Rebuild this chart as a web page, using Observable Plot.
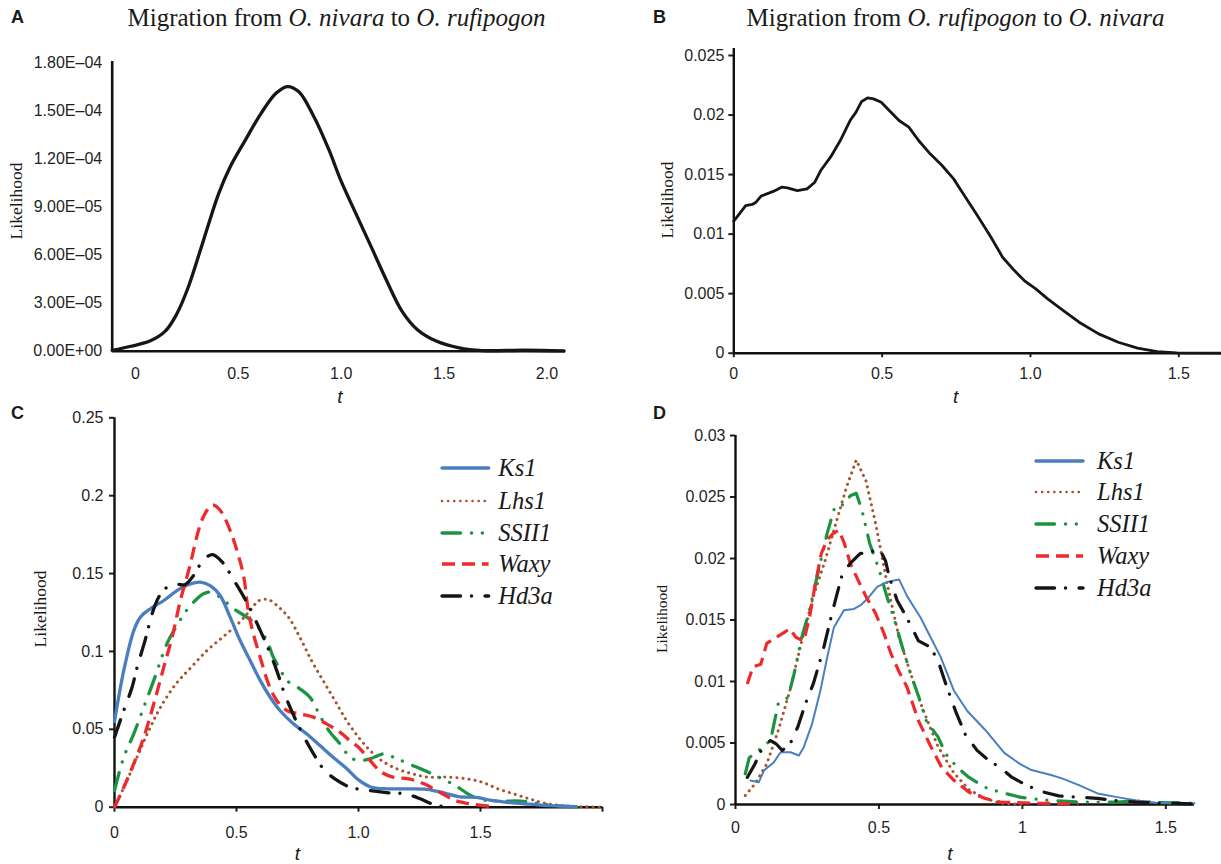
<!DOCTYPE html>
<html><head><meta charset="utf-8">
<script src="https://cdn.jsdelivr.net/npm/d3@7"></script>
<script src="https://cdn.jsdelivr.net/npm/@observablehq/plot@0.6"></script>
<style>
body{margin:0;background:#fff;}
#fig{position:relative;width:1221px;height:864px;overflow:hidden;font-family:"Liberation Sans",Arial,sans-serif;color:#1a1a1a;}
.abs{position:absolute;white-space:nowrap;line-height:1;}
.title{font-family:"Liberation Serif","Times New Roman",serif;font-size:25px;transform:translateX(-50%);}
.plabel{font-weight:bold;font-size:18px;}
.ylab{font-family:"Liberation Serif","Times New Roman",serif;font-size:17.5px;transform:translate(-50%,-50%) rotate(-90deg);}
.xlab{font-style:italic;font-size:19px;transform:translate(-50%,-50%);}
.abs.legtext{font-family:"Liberation Serif","Times New Roman","DejaVu Serif",serif !important;font-style:italic;font-size:24.5px;transform:translateY(-50%);}
.plot{position:absolute;}
</style></head>
<body><div id="fig"></div>
<script>
// ---------- Panel A data ----------
const aT = [-0.113,-0.022,0.07,0.145,0.2,0.256,0.33,0.404,0.46,0.534,0.609,0.683,0.738,0.794,0.868,0.942,0.998,1.072,1.147,1.221,1.295,1.369,1.462,1.573,1.685,1.889,2.083];
const aLik = [0.5e-6,3.1e-6,6.3e-6,12.5e-6,23e-6,39.7e-6,68.9e-6,98.1e-6,114.8e-6,131.6e-6,148e-6,160.8e-6,165e-6,161.8e-6,146e-6,125e-6,106.5e-6,85.6e-6,64.7e-6,43.9e-6,25e-6,13.6e-6,6.3e-6,2.1e-6,0.4e-6,0.6e-6,0.2e-6];
const aXTicks = [0,0.5,1.0,1.5,2.0];
const aXLabels = ["0","0.5","1.0","1.5","2.0"];
const aYTicks = [0,3e-5,6e-5,9e-5,1.2e-4,1.5e-4,1.8e-4];
const aYLabels = ["0.00E+00","3.00E\u201305","6.00E\u201305","9.00E\u201305","1.20E\u201304","1.50E\u201304","1.80E\u201304"];

// ---------- Panel B data ----------
const bT = [0,0.04,0.062,0.075,0.092,0.135,0.161,0.181,0.214,0.247,0.273,0.293,0.326,0.359,0.392,0.412,0.431,0.451,0.471,0.497,0.524,0.557,0.59,0.623,0.662,0.702,0.741,0.781,0.821,0.867,0.906,0.946,0.979,1.018,1.058,1.111,1.164,1.23,1.296,1.361,1.427,1.493,1.65];
const bLik = [0.01109,0.0124,0.01249,0.01268,0.01319,0.01361,0.01394,0.01389,0.01366,0.0138,0.01436,0.01534,0.01646,0.01786,0.01954,0.02024,0.02114,0.02144,0.02136,0.02108,0.02038,0.01954,0.01898,0.01786,0.01674,0.01576,0.01464,0.0131,0.01156,0.00974,0.00806,0.00694,0.0061,0.0054,0.00456,0.00358,0.0026,0.00162,0.00092,0.00042,0.00014,0.00003,0];
const bXTicks = [0,0.5,1.0,1.5];
const bXLabels = ["0","0.5","1.0","1.5"];
const bYTicks = [0,0.005,0.01,0.015,0.02,0.025];
const bYLabels = ["0","0.005","0.01","0.015","0.02","0.025"];

// ---------- Panel C data ----------
const genes = ["Ks1","Lhs1","SSII1","Waxy","Hd3a"];
const cKs1T = [0,0.038,0.079,0.106,0.147,0.202,0.256,0.311,0.351,0.392,0.433,0.474,0.515,0.556,0.597,0.638,0.678,0.733,0.787,0.842,0.896,0.95,1.0,1.05,1.12,1.2,1.28,1.35,1.41,1.49,1.54,1.6,1.68,1.76,1.89];
const cKs1 = [0.055,0.0878,0.1134,0.122,0.1274,0.1327,0.1391,0.1434,0.1445,0.1423,0.1359,0.122,0.107,0.0942,0.0814,0.0706,0.0621,0.0536,0.0471,0.0396,0.0321,0.025,0.0175,0.013,0.0118,0.0118,0.0115,0.0092,0.0068,0.0062,0.0045,0.0033,0.0022,0.0012,0.0004];
const cLhs1T = [0,0.045,0.092,0.14,0.188,0.251,0.315,0.379,0.442,0.506,0.554,0.593,0.633,0.673,0.713,0.76,0.808,0.856,0.903,0.951,1.0,1.047,1.094,1.158,1.222,1.285,1.365,1.444,1.508,1.571,1.635,1.699,1.762,1.842,1.993];
const cLhs1 = [0,0.015,0.032,0.049,0.064,0.079,0.09,0.1006,0.109,0.1177,0.126,0.1327,0.1331,0.1284,0.122,0.109,0.094,0.081,0.0685,0.0556,0.045,0.0364,0.03,0.0246,0.0214,0.0193,0.0193,0.0182,0.016,0.0118,0.0086,0.0054,0.0026,0.0009,0];
const cSSII1T = [0,0.038,0.079,0.12,0.161,0.215,0.256,0.29,0.324,0.365,0.392,0.433,0.488,0.542,0.583,0.624,0.651,0.678,0.706,0.76,0.801,0.849,0.883,0.924,0.965,1.0,1.047,1.102,1.158,1.222,1.301,1.397,1.46,1.508,1.571,1.667,1.73,1.81,1.9];
const cSSII1 = [0.0107,0.0321,0.0471,0.0642,0.0814,0.105,0.1167,0.1252,0.1316,0.137,0.1381,0.1348,0.1274,0.122,0.1167,0.107,0.0963,0.0889,0.0814,0.076,0.0706,0.0567,0.0482,0.0407,0.0321,0.03,0.031,0.0342,0.031,0.0268,0.0214,0.0139,0.0075,0.0047,0.0039,0.0039,0.0026,0.0009,0.0002];
const cWaxyT = [0,0.038,0.079,0.12,0.161,0.202,0.236,0.27,0.304,0.363,0.402,0.434,0.474,0.506,0.53,0.548,0.569,0.597,0.631,0.665,0.706,0.76,0.815,0.869,0.924,0.964,1.0,1.047,1.094,1.142,1.206,1.269,1.333,1.397,1.46,1.548];
const cWaxy = [0,0.0128,0.0279,0.0449,0.0664,0.0899,0.1091,0.1327,0.152,0.186,0.194,0.1905,0.1776,0.1626,0.1477,0.1263,0.1113,0.0963,0.0792,0.0685,0.0621,0.0599,0.0578,0.0535,0.0482,0.0428,0.0385,0.03,0.0225,0.0193,0.0182,0.015,0.0096,0.0043,0.0021,0.0004];
const cHd3aT = [0,0.038,0.072,0.093,0.127,0.154,0.181,0.215,0.256,0.29,0.324,0.363,0.402,0.442,0.49,0.538,0.585,0.633,0.665,0.697,0.744,0.792,0.824,0.856,0.903,0.967,1.047,1.126,1.19,1.253,1.301,1.349];
const cHd3a = [0.0449,0.0621,0.077,0.0899,0.1081,0.1241,0.1348,0.1412,0.143,0.143,0.1488,0.1584,0.1622,0.1573,0.1455,0.1327,0.1177,0.1006,0.0877,0.0728,0.0556,0.0407,0.0321,0.0246,0.0182,0.0128,0.0107,0.0092,0.0086,0.0054,0.0021,0.0004];
const cXTicks = [0,0.5,1.0,1.5,2.0];
const cXLabels = ["0","0.5","1.0","1.5",""];
const cYTicks = [0,0.05,0.1,0.15,0.2,0.25];
const cYLabels = ["0","0.05","0.1","0.15","0.2","0.25"];

// ---------- Panel D data ----------
const dKs1T = [0.052,0.081,0.099,0.134,0.157,0.192,0.221,0.238,0.267,0.296,0.32,0.343,0.378,0.413,0.436,0.459,0.494,0.529,0.57,0.599,0.645,0.68,0.715,0.761,0.808,0.869,0.937,0.991,1.032,1.1,1.14,1.195,1.262,1.33,1.398,1.466,1.6];
const dKs1 = [0.00195,0.0018,0.00276,0.00344,0.00425,0.00425,0.00398,0.00466,0.00656,0.00927,0.012,0.0144,0.0158,0.0159,0.0162,0.0167,0.0177,0.0181,0.0183,0.0169,0.0152,0.0136,0.012,0.00927,0.0076,0.0061,0.0042,0.0033,0.0028,0.0024,0.0021,0.0016,0.0009,0.0006,0.00033,0.00014,0.0001];
const dLhs1T = [0.034,0.068,0.109,0.149,0.19,0.231,0.271,0.312,0.353,0.387,0.421,0.455,0.489,0.529,0.57,0.611,0.652,0.706,0.76,0.814,0.869,0.923,1.0];
const dLhs1 = [0.00073,0.00168,0.0033,0.006,0.0093,0.0133,0.0169,0.0198,0.0231,0.0258,0.028,0.0263,0.0228,0.0179,0.0136,0.0106,0.0078,0.0047,0.0026,0.0012,0.0005,0.0001,0];
const dSSII1T = [0.034,0.048,0.081,0.122,0.149,0.183,0.204,0.231,0.258,0.292,0.319,0.346,0.38,0.4,0.421,0.441,0.468,0.502,0.529,0.557,0.584,0.611,0.638,0.665,0.706,0.733,0.774,0.814,0.869,0.923,0.991,1.059,1.127,1.195,1.33,1.398,1.466,1.6];
const dSSII1 = [0.0025,0.0038,0.0044,0.0052,0.0082,0.0087,0.0106,0.0136,0.0158,0.0193,0.022,0.0242,0.0244,0.0251,0.0253,0.0239,0.0212,0.019,0.0168,0.0148,0.0126,0.0106,0.0088,0.0068,0.0055,0.0041,0.003,0.0022,0.0014,0.001,0.0006,0.0004,0.0003,0.0002,0.0002,0.0003,0.00016,0.0001];
const dWaxyT = [0.041,0.061,0.088,0.109,0.143,0.17,0.19,0.21,0.238,0.258,0.278,0.299,0.319,0.339,0.36,0.38,0.4,0.428,0.455,0.489,0.516,0.543,0.57,0.597,0.638,0.679,0.719,0.76,0.814,0.869,0.923,1.059,1.195];
const dWaxy = [0.0098,0.0112,0.0114,0.0131,0.0136,0.014,0.0143,0.0136,0.0133,0.0152,0.0179,0.0204,0.0215,0.022,0.0223,0.0212,0.0196,0.0182,0.0169,0.0155,0.014,0.0122,0.0108,0.0096,0.0068,0.0048,0.003,0.002,0.001,0.0005,0.0002,0.0001,0.00005];
const dHd3aT = [0.041,0.068,0.095,0.122,0.143,0.163,0.19,0.217,0.244,0.271,0.305,0.339,0.373,0.4,0.434,0.468,0.502,0.523,0.536,0.563,0.597,0.638,0.679,0.706,0.733,0.767,0.801,0.842,0.882,0.923,0.964,1.004,1.059,1.127,1.195,1.262,1.33,1.398,1.6];
const dHd3a = [0.0022,0.0033,0.0047,0.0052,0.0049,0.0044,0.0049,0.0063,0.0082,0.0098,0.0125,0.0158,0.0188,0.0196,0.0204,0.0205,0.0208,0.0198,0.0185,0.0166,0.0152,0.0133,0.0128,0.0117,0.0098,0.0076,0.0057,0.0044,0.0036,0.003,0.0022,0.0017,0.0011,0.0007,0.0006,0.0005,0.0003,0.0002,0.00005];
const dXTicks = [0,0.5,1,1.5];
const dXLabels = ["0","0.5","1","1.5"];
const dYTicks = [0,0.005,0.01,0.015,0.02,0.025,0.03];
const dYLabels = ["0","0.005","0.01","0.015","0.02","0.025","0.03"];

// ---------- styles (not data) ----------
const seriesStyle = {
  Ks1:   {color:"#4a7ebf", dash:null, cap:"round"},
  Lhs1:  {color:"#a5542b", dash:"0.1 6", cap:"round"},
  SSII1: {color:"#1b9442", dash:"18.5 11 0.1 10.7 0.1 11", cap:"round"},
  Waxy:  {color:"#ee2a2c", dash:"13 7", cap:"butt"},
  Hd3a:  {color:"#151515", dash:"18.5 11 0.1 13.5", cap:"round"}
};
const drawOrder = ["Lhs1","SSII1","Ks1","Waxy","Hd3a"];

const rows = (ts, vs) => ts.map((t, i) => ({t, v: vs[i]}));
const fmt = (ticks, labels) => d => labels[ticks.indexOf(d)];
const baseStyle = {fontFamily:"'Liberation Sans', Arial, sans-serif", fontSize:"16px", color:"#1f1f1f", background:"transparent", overflow:"visible"};
const fig = document.getElementById("fig");

function place(svg, left, top) {
  const d = document.createElement("div");
  d.className = "plot"; d.style.left = left + "px"; d.style.top = top + "px";
  d.appendChild(svg); fig.appendChild(d);
}
function text(cls, str, left, top, html) {
  const d = document.createElement("div");
  d.className = "abs " + cls; d.style.left = left + "px"; d.style.top = top + "px";
  if (html) d.innerHTML = str; else d.textContent = str;
  fig.appendChild(d);
  return d;
}

// ---------- Panel A ----------
const plotA = Plot.plot({
  width: 600, height: 380,
  marginLeft: 111.7, marginRight: 35, marginTop: 22, marginBottom: 69.3,
  x: {domain: [-0.113, 2.09]},
  y: {domain: [0, 1.8e-4]},
  style: baseStyle,
  marks: [
    Plot.axisX({ticks: aXTicks, tickFormat: fmt(aXTicks, aXLabels), tickSize: 0, tickPadding: 16.6, label: null}),
    Plot.axisY({ticks: aYTicks, tickFormat: fmt(aYTicks, aYLabels), tickSize: 0, tickPadding: 10, label: null}),
    Plot.ruleY([0], {stroke: "#111", strokeWidth: 2.6}),
    Plot.ruleX([-0.113], {y1: 0, y2: 1.807e-4, stroke: "#111", strokeWidth: 2.6}),
    Plot.line(rows(aT, aLik), {x: "t", y: "v", curve: "catmull-rom", stroke: "#161616", strokeWidth: 3.3, strokeLinejoin: "round"})
  ]
});
place(plotA, 0, 40);

// ---------- Panel B ----------
const plotB = Plot.plot({
  width: 611, height: 380,
  marginLeft: 123.3, marginRight: 0, marginTop: 15, marginBottom: 67.3,
  x: {domain: [0, 1.644]},
  y: {domain: [0, 0.025]},
  style: baseStyle,
  marks: [
    Plot.axisX({ticks: bXTicks, tickFormat: fmt(bXTicks, bXLabels), tickSize: 4.5, tickPadding: 10, strokeWidth: 2, label: null}),
    Plot.axisY({ticks: bYTicks, tickFormat: fmt(bYTicks, bYLabels), tickSize: 5, tickPadding: 4.5, strokeWidth: 2, label: null}),
    Plot.ruleY([0], {stroke: "#111", strokeWidth: 2.4}),
    Plot.ruleX([0], {y1: 0, y2: 0.02559, stroke: "#111", strokeWidth: 2.4}),
    Plot.line(rows(bT, bLik), {x: "t", y: "v", stroke: "#161616", strokeWidth: 2.8, strokeLinejoin: "round"})
  ]
});
place(plotB, 610, 40);

// ---------- Panel C ----------
const cSeries = {Ks1: rows(cKs1T, cKs1), Lhs1: rows(cLhs1T, cLhs1), SSII1: rows(cSSII1T, cSSII1), Waxy: rows(cWaxyT, cWaxy), Hd3a: rows(cHd3aT, cHd3a)};
const plotC = Plot.plot({
  width: 610, height: 454,
  marginLeft: 114, marginRight: 8, marginTop: 7.3, marginBottom: 57.3,
  x: {domain: [0, 2.0]},
  y: {domain: [0, 0.25]},
  style: baseStyle,
  marks: [
    Plot.axisX({ticks: cXTicks, tickFormat: fmt(cXTicks, cXLabels), tickSize: 5, tickPadding: 14, strokeWidth: 2, label: null}),
    Plot.axisY({ticks: cYTicks, tickFormat: fmt(cYTicks, cYLabels), tickSize: 5, tickPadding: 6, strokeWidth: 2, label: null}),
    Plot.ruleY([0], {stroke: "#111", strokeWidth: 2.4}),
    Plot.ruleX([0], {y1: 0, y2: 0.25, stroke: "#111", strokeWidth: 2.4}),
    ...drawOrder.map(g => Plot.line(cSeries[g], {x: "t", y: "v", curve: "catmull-rom",
      stroke: seriesStyle[g].color, strokeWidth: g === "Lhs1" ? 3 : 3.3,
      strokeDasharray: seriesStyle[g].dash, strokeLinecap: seriesStyle[g].cap, strokeLinejoin: "round"}))
  ]
});
place(plotC, 0, 410);

// ---------- Panel D ----------
const dSeries = {Ks1: rows(dKs1T, dKs1), Lhs1: rows(dLhs1T, dLhs1), SSII1: rows(dSSII1T, dSSII1), Waxy: rows(dWaxyT, dWaxy), Hd3a: rows(dHd3aT, dHd3a)};
const plotD = Plot.plot({
  width: 611, height: 454,
  marginLeft: 125, marginRight: 27, marginTop: 25, marginBottom: 60,
  x: {domain: [0, 1.6]},
  y: {domain: [0, 0.03]},
  style: baseStyle,
  marks: [
    Plot.axisX({ticks: dXTicks, tickFormat: fmt(dXTicks, dXLabels), tickSize: 5, tickPadding: 12, strokeWidth: 2, label: null}),
    Plot.axisY({ticks: dYTicks, tickFormat: fmt(dYTicks, dYLabels), tickSize: 5, tickPadding: 5, strokeWidth: 2, label: null}),
    Plot.ruleY([0], {stroke: "#111", strokeWidth: 2.4}),
    Plot.ruleX([0], {y1: 0, y2: 0.03, stroke: "#111", strokeWidth: 2.4}),
    ...drawOrder.map(g => Plot.line(dSeries[g], {x: "t", y: "v",
      stroke: seriesStyle[g].color, strokeWidth: g === "Ks1" ? 2 : (g === "Lhs1" ? 3 : 3.2),
      strokeDasharray: seriesStyle[g].dash, strokeLinecap: seriesStyle[g].cap, strokeLinejoin: "round"}))
  ]
});
place(plotD, 610, 410);

// ---------- Titles, panel letters, axis titles ----------
text("title", "Migration from <i>O. nivara</i> to <i>O. rufipogon</i>", 336.5, 5, true);
text("title", "Migration from <i>O. rufipogon</i> to <i>O. nivara</i>", 955.5, 5, true);
text("plabel", "A", 11, 8);
text("plabel", "B", 653, 8);
text("plabel", "C", 11, 403.5);
text("plabel", "D", 653, 404);
text("ylab", "Likelihood", 17, 201);
text("ylab", "Likelihood", 668, 200);
text("ylab", "Likelihood", 41, 609);
text("ylab", "Likelihood", 662, 619).style.fontSize = "15.5px";
text("xlab", "t", 340, 396);
text("xlab", "t", 955.7, 395.7);
text("xlab", "t", 297.3, 853);
text("xlab", "t", 950, 853);

// ---------- Legends ----------
function legend(x0, x1, tx, ys) {
  genes.forEach((g, i) => {
    const s = seriesStyle[g];
    const svg = d3.create("svg").attr("width", x1 - x0 + 10).attr("height", 10)
      .style("position", "absolute").style("left", (x0 - 5) + "px").style("top", (ys[i] - 5) + "px").style("overflow", "visible");
    svg.append("line").attr("x1", 5).attr("x2", x1 - x0 + 5).attr("y1", 5).attr("y2", 5)
      .attr("stroke", s.color).attr("stroke-width", g === "Lhs1" ? 2.6 : 3.4)
      .attr("stroke-dasharray", s.dash).attr("stroke-linecap", s.cap);
    fig.appendChild(svg.node());
    const t = text("legtext", g, tx, ys[i]);
    t.style.fontFamily = "'Liberation Serif', 'DejaVu Serif', serif";
  });
}
legend(441.7, 488.3, 498.3, [468.3, 500.5, 532.5, 564.3, 596]);
legend(1036, 1083, 1097, [460.5, 492, 524, 556, 588.3]);
</script>
</body></html>
